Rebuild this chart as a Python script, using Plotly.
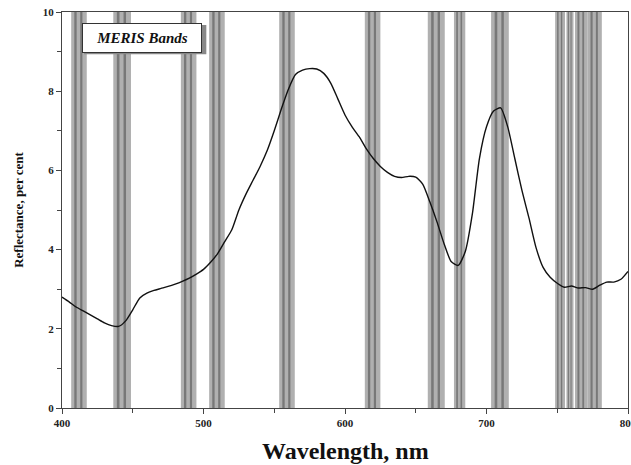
import plotly.graph_objects as go

# Reflectance spectrum
wavelength = [400, 405, 410, 415, 420, 425, 430, 435, 440, 445, 450, 455, 460, 465, 470,
              475, 480, 485, 490, 495, 500, 505, 510, 515, 520, 525, 530, 535, 540, 545,
              550, 555, 560, 565, 570, 575, 580, 585, 590, 595, 600, 605, 610, 615, 620,
              625, 630, 635, 640, 645, 650, 655, 660, 665, 670, 675, 680, 685, 690, 695,
              700, 705, 710, 715, 720, 725, 730, 735, 740, 745, 750, 755, 760, 765, 770,
              775, 780, 785, 790, 795, 800]
reflectance = [2.80, 2.68, 2.55, 2.45, 2.35, 2.25, 2.15, 2.08, 2.06, 2.20, 2.48, 2.78, 2.90, 2.97, 3.02,
               3.07, 3.13, 3.20, 3.28, 3.38, 3.50, 3.68, 3.90, 4.20, 4.50, 5.00, 5.40, 5.75, 6.10, 6.50,
               7.00, 7.55, 8.05, 8.42, 8.53, 8.57, 8.56, 8.45, 8.20, 7.80, 7.40, 7.10, 6.85, 6.55, 6.30,
               6.10, 5.95, 5.85, 5.82, 5.85, 5.83, 5.65, 5.20, 4.70, 4.15, 3.70, 3.60, 3.95, 4.90, 6.30,
               7.10, 7.50, 7.58, 7.10, 6.30, 5.50, 4.80, 4.05, 3.55, 3.30, 3.15, 3.05, 3.08, 3.03, 3.04,
               3.00, 3.10, 3.18, 3.18, 3.25, 3.45]

# MERIS band centres and widths (nm)
band_centers = [412, 442.5, 489.5, 509.5, 559, 619.5, 664.5, 681, 709.5, 752, 759, 767, 776.5]
band_widths = [11, 12.5, 11, 11, 11, 11, 12, 8, 12.5, 7, 5, 9, 10]

x_ticks = [400, 500, 600, 700, 800]
y_ticks = [0, 2, 4, 6, 8, 10]

SERIF = "Liberation Serif, Times New Roman, serif"

fig = go.Figure()

shapes = []
light = "#b0b0b0"
dark = "#787878"
for c, w in zip(band_centers, band_widths):
    x0 = c - w / 2
    shapes.append(dict(type="rect", xref="x", yref="y", x0=x0, x1=x0 + w, y0=0, y1=10,
                       fillcolor=light, line=dict(width=0), layer="below"))
    for f0, f1 in [(0.2, 0.35), (0.58, 0.72)]:
        shapes.append(dict(type="rect", xref="x", yref="y", x0=x0 + f0 * w, x1=x0 + f1 * w,
                           y0=0, y1=10, fillcolor=dark, line=dict(width=0), layer="below"))

# legend-box shadow
shapes.append(dict(type="rect", xref="paper", yref="paper", x0=0.039, x1=0.255, y0=0.893, y1=0.967,
                   fillcolor="#888888", line=dict(width=0), layer="above"))

fig.add_trace(go.Scatter(x=wavelength, y=reflectance, mode="lines",
                         line=dict(color="#111", width=1.4, shape="spline", smoothing=0.6),
                         showlegend=False, hoverinfo="skip"))

fig.add_annotation(xref="paper", yref="paper", x=0.035, y=0.972, xanchor="left", yanchor="top",
                   text="<b><i>MERIS Bands</i></b>", showarrow=False,
                   font=dict(family=SERIF, size=15, color="#111"),
                   bgcolor="white", bordercolor="#333", borderwidth=1, borderpad=0,
                   width=118, height=28)

# axis titles as annotations for exact placement
fig.add_annotation(xref="paper", yref="paper", x=0.5, y=-0.07, xanchor="center", yanchor="top",
                   text="<b>Wavelength, nm</b>", showarrow=False,
                   font=dict(family=SERIF, size=24, color="#111"))
fig.add_annotation(xref="paper", yref="paper", x=-0.078, y=0.5, xanchor="center", yanchor="middle",
                   text="<b>Reflectance, per cent</b>", showarrow=False, textangle=-90,
                   font=dict(family=SERIF, size=13, color="#111"))

fig.update_layout(
    width=631, height=465,
    margin=dict(l=62, r=3, t=12, b=57),
    paper_bgcolor="white", plot_bgcolor="white",
    shapes=shapes,
    font=dict(family=SERIF, color="#222"),
)

fig.update_xaxes(range=[400, 800], tickvals=x_ticks, ticktext=[f"<b>{v}</b>" for v in x_ticks],
                 ticks="outside", ticklen=5, tickcolor="#444", showgrid=False, zeroline=False,
                 showline=True, linecolor="#444", linewidth=1, mirror=True, automargin=False,
                 ticklabeloverflow="allow",
                 minor=dict(dtick=50, ticks="outside", ticklen=4, tickcolor="#444", showgrid=False),
                 tickfont=dict(family=SERIF, size=11, color="#222"))
fig.update_yaxes(range=[0, 10], tickvals=y_ticks, ticktext=[f"<b>{v}</b>" for v in y_ticks],
                 ticks="outside", ticklen=5, tickcolor="#444", showgrid=False, zeroline=False,
                 showline=True, linecolor="#444", linewidth=1, mirror=True, automargin=False,
                 ticklabeloverflow="allow",
                 minor=dict(dtick=1, ticks="outside", ticklen=4, tickcolor="#444", showgrid=False),
                 tickfont=dict(family=SERIF, size=11, color="#222"))

# remove the browser's default body margin so the figure fills the window exactly
fig.write_html("out.html", config={"displayModeBar": False},
               post_script="document.body.style.margin='0';document.body.style.overflow='hidden';")
